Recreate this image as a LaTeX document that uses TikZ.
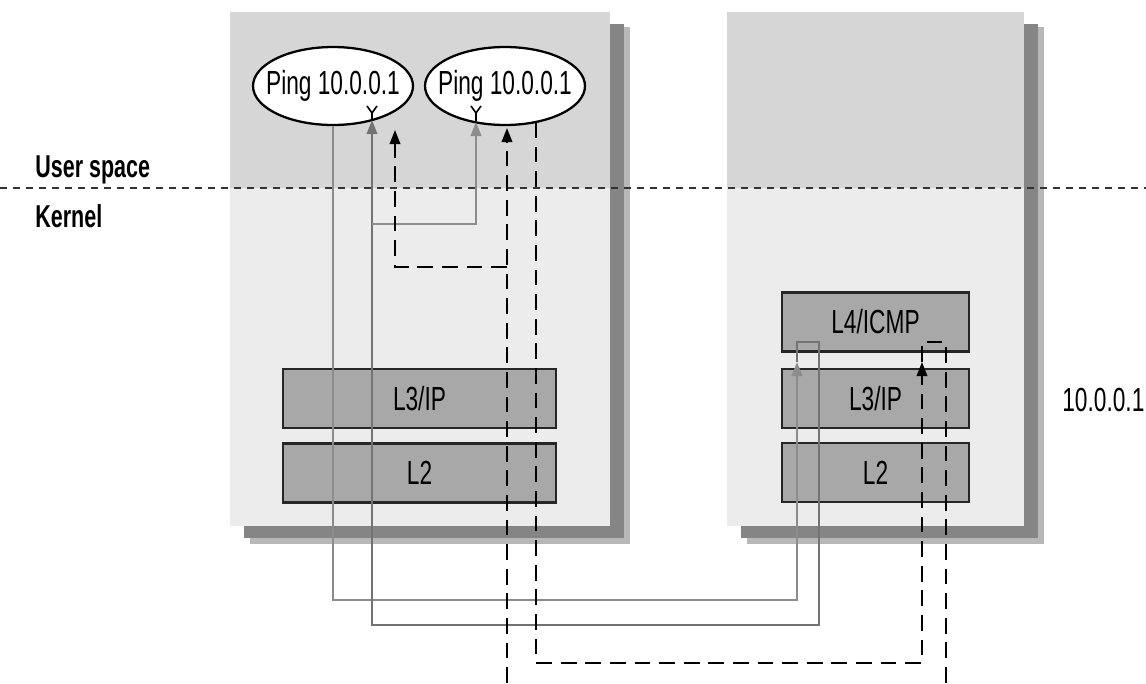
\documentclass[tikz,border=0pt]{standalone}
\usepackage{fontspec}
\newfontfamily\condsans[FakeStretch=0.68]{Liberation Sans}
\usetikzlibrary{arrows.meta,shapes.geometric}
\definecolor{UserGray}{HTML}{D6D6D6}
\definecolor{KernelGray}{HTML}{ECECEC}
\definecolor{ShadowGray}{HTML}{858585}
\definecolor{FringeGray}{HTML}{B8B8B8}
\definecolor{LayerGray}{HTML}{A8A8A8}
\definecolor{EchoGray}{HTML}{8C8C8C}
\tikzset{
  layer box/.style={draw=black!85,fill=LayerGray,line width=1.2pt,minimum width=#1,
    minimum height=1.18cm,inner sep=0pt,font=\condsans\fontsize{19}{22}\selectfont},
  ping node/.style={ellipse,draw=black,fill=white,line width=1.3pt,minimum width=3.2cm,
    minimum height=1.56cm,inner sep=0pt,font=\condsans\fontsize{19}{22}\selectfont},
  space label/.style={anchor=west,inner sep=0pt,font=\condsans\bfseries\fontsize{18}{21}\selectfont},
  host label/.style={anchor=west,inner sep=0pt,font=\condsans\fontsize{19}{22}\selectfont},
  space line/.style={draw=black!80,line width=1.1pt,dash pattern=on 4pt off 3.4pt},
  echo line/.style={draw=EchoGray,line width=1.4pt},
  echo arrow/.style={echo line,-{Triangle[length=8pt,width=6pt]}},
  local line/.style={draw=black,line width=1.1pt,dash pattern=on 9pt off 5pt},
  local arrow/.style={local line,-{Triangle[length=8pt,width=6pt]}},
  notch/.style={draw=black,line width=0.9pt}
}
\begin{document}
\begin{tikzpicture}[x=0.02cm,y=-0.02cm]
  \useasboundingbox (0,0) rectangle (1146,683);
  % hosts
  \foreach \l/\r in {230/610,727/1024}{
    \fill[FringeGray] (\l+20,27) rectangle (\r+20,544);
    \fill[ShadowGray] (\l+14,24) rectangle (\r+14,538);
    \fill[KernelGray] (\l,12) rectangle (\r,526);
    \fill[UserGray] (\l,12) rectangle (\r,188);
  }
  \draw[space line] (0,188) -- (1146,188);
  \node[space label] (user) at (35,170) {User space};
  \node[space label] (kernel) at (35,216) {Kernel};

  \node[ping node] (pingA) at (333,86) {\makebox[0pt]{Ping 10.0.0.1}};
  \node[ping node] (pingB) at (505,86) {\makebox[0pt]{Ping 10.0.0.1}};
  \node[layer box=5.46cm] (ipA) at (419.5,398.5) {L3/IP};
  \node[layer box=5.46cm] (linkA) at (419.5,473) {L2};
  \node[layer box=3.74cm] (icmpB) at (875.5,322) {L4/ICMP};
  \node[layer box=3.74cm] (ipB) at (875.5,398.5) {L3/IP};
  \node[layer box=3.74cm] (linkB) at (875.5,472.5) {L2};
  \node[host label] (addr) at (1062,400) {10.0.0.1};

  % connector ends
  \coordinate (echoA) at (372,120);
  \coordinate (echoB) at (476,122);
  \coordinate (localA) at (395,130);
  \coordinate (localB) at (507,128);
  \coordinate (outB) at (536,122);
  \coordinate (inIP) at (797,362);
  \coordinate (inIPd) at (922,362);
  \coordinate (wireIn) at (507,683);
  \coordinate (wireOut) at (946,683);

  \draw[echo arrow] (pingA.south) -- (333,600) -| (inIP);
  \draw[echo arrow,line width=1.1pt,draw=black!55] (inIP) |- (819,342) -- (819,625) -| (echoA);
  \draw[echo arrow] (372,224) -| (echoB);
  \draw[local arrow] (outB) -- (536,663) -| (inIPd);
  \draw[local line] (inIPd) |- (946,342) -- (wireOut);
  \draw[local arrow] (wireIn) -- (localB);
  \draw[local arrow] (507,267) -| (localA);

  \draw[notch] (367,106) -- (372,113) -- (377,106) (372,113) -- (372,119);
  \draw[notch] (471,106) -- (476,113) -- (481,106) (476,113) -- (476,121);
\end{tikzpicture}
\end{document}
